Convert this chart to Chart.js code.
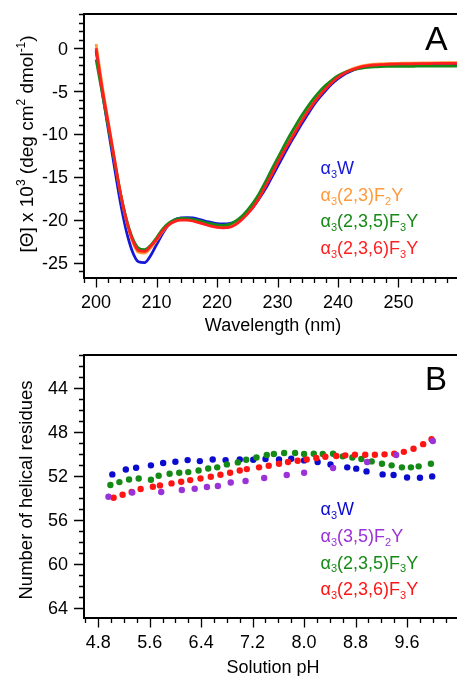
<!DOCTYPE html>
<html>
<head>
<meta charset="utf-8">
<script src="https://cdn.jsdelivr.net/npm/chart.js@4.4.0/dist/chart.umd.min.js"></script>
<style>
html, body { margin: 0; padding: 0; background: #fff; overflow: hidden; width: 457px; height: 676px; }
#wrapA { position: absolute; left: 0; top: 0; }
#wrapB { position: absolute; left: 0; top: 340px; }
canvas { display: block; }
</style>
</head>
<body>
<div id="wrapA"><canvas id="cdChart" width="470" height="340"></canvas></div>
<div id="wrapB"><canvas id="phChart" width="470" height="336"></canvas></div>
<script>
// ---- panel A: CD spectra ----
let wavelengthNm = [200, 201, 202, 203, 204, 205, 206, 207, 208, 209,
    210, 211, 212, 213, 214, 215, 216, 217, 218, 219,
    220, 221, 222, 223, 224, 225, 226, 227, 228, 229,
    230, 231, 232, 233, 234, 235, 236, 237, 238, 239,
    240, 241, 242, 243, 244, 245, 246, 247, 248, 249,
    250, 251, 252, 253, 254, 255, 256, 257, 258, 259, 260];

let thetaW = [-0.3, -5.0, -9.4, -13.7, -17.9, -21.3, -23.7, -24.9, -25.0, -24.2,
    -22.9, -21.6, -20.6, -20.0, -19.8, -19.75, -19.8, -19.95, -20.15, -20.3,
    -20.45, -20.5, -20.45, -20.25, -19.85, -19.25, -18.5, -17.5, -16.4, -15.1,
    -13.8, -12.5, -11.2, -10.0, -8.8, -7.7, -6.6, -5.7, -4.9, -4.15,
    -3.55, -3.05, -2.7, -2.4, -2.2, -2.05, -1.97, -1.92, -1.89, -1.87,
    -1.85, -1.84, -1.83, -1.82, -1.81, -1.8, -1.8, -1.79, -1.79, -1.78, -1.78];

let thetaF2Y = [0.5, -4.3, -8.5, -12.7, -16.8, -20.1, -22.5, -23.8, -23.9, -23.3,
    -22.4, -21.4, -20.6, -20.2, -20.0, -20.0, -20.1, -20.3, -20.5, -20.7,
    -20.8, -20.85, -20.8, -20.5, -19.95, -19.25, -18.4, -17.3, -16.0, -14.7,
    -13.3, -12.0, -10.7, -9.5, -8.3, -7.2, -6.2, -5.3, -4.5, -3.85,
    -3.3, -2.85, -2.5, -2.25, -2.05, -1.93, -1.86, -1.82, -1.79, -1.77,
    -1.75, -1.74, -1.73, -1.72, -1.71, -1.7, -1.7, -1.69, -1.69, -1.68, -1.68];

let thetaF3Y235 = [-1.3, -5.2, -9.1, -13.0, -16.8, -19.9, -22.1, -23.3, -23.5, -23.0,
    -22.1, -21.1, -20.4, -20.0, -19.85, -19.85, -19.95, -20.1, -20.3, -20.45,
    -20.6, -20.65, -20.55, -20.2, -19.65, -18.9, -18.0, -16.9, -15.6, -14.2,
    -12.85, -11.5, -10.2, -9.0, -7.85, -6.8, -5.85, -5.0, -4.3, -3.7,
    -3.2, -2.85, -2.6, -2.42, -2.3, -2.22, -2.17, -2.14, -2.12, -2.11,
    -2.1, -2.1, -2.1, -2.09, -2.09, -2.09, -2.08, -2.08, -2.08, -2.07, -2.07];

let thetaF3Y236 = [0.0, -4.7, -8.7, -12.8, -16.8, -20.0, -22.3, -23.6, -23.7, -23.1,
    -22.3, -21.3, -20.6, -20.2, -20.05, -20.05, -20.15, -20.35, -20.55, -20.75,
    -20.9, -20.95, -20.9, -20.6, -20.05, -19.35, -18.5, -17.4, -16.1, -14.8,
    -13.4, -12.1, -10.9, -9.7, -8.5, -7.4, -6.4, -5.5, -4.7, -4.0,
    -3.4, -2.95, -2.6, -2.35, -2.15, -2.02, -1.95, -1.9, -1.87, -1.85,
    -1.83, -1.82, -1.81, -1.8, -1.79, -1.78, -1.77, -1.76, -1.76, -1.75, -1.75];

let cdLabels = ['α_{3}W', 'α_{3}(2,3)F_{2}Y', 'α_{3}(2,3,5)F_{3}Y', 'α_{3}(2,3,6)F_{3}Y'];
let cdColors = ['#1717d9', '#ff9a3c', '#168a16', '#ff1f1f'];
let cdWaveTicks = [200, 210, 220, 230, 240, 250];
let cdThetaTicks = [0, -5, -10, -15, -20, -25];

// ---- panel B: helical residues vs pH ----
let phW = [5.02, 5.23, 5.39, 5.62, 5.81, 6.00, 6.19, 6.38, 6.58, 6.78, 7.00, 7.21, 7.40,
    7.61, 7.80, 8.00, 8.21, 8.41, 8.67, 8.81, 8.97, 9.22, 9.39, 9.60, 9.80, 9.99];
let resW = [51.85, 51.40, 51.25, 51.03, 50.82, 50.70, 50.55, 50.64, 50.49, 50.55, 50.49, 50.52, 50.45,
    50.49, 50.43, 50.58, 50.73, 50.94, 51.21, 51.33, 51.58, 51.85, 51.91, 52.13, 52.15, 52.03];

let phF2Y = [4.96, 5.33, 5.78, 6.10, 6.30, 6.49, 6.66, 6.86, 7.09, 7.38, 7.73, 8.00, 8.45, 8.98, 9.43, 10.00];
let resF2Y = [53.88, 53.49, 53.45, 53.27, 53.15, 53.00, 52.91, 52.58, 52.45, 52.18, 51.91, 51.70, 51.27, 50.73, 50.09, 48.82];

let phF3Y235 = [4.99, 5.13, 5.28, 5.43, 5.62, 5.74, 5.91, 6.06, 6.20, 6.36, 6.51, 6.65, 6.80, 6.97, 7.10, 7.26, 7.42,
    7.53, 7.69, 7.86, 8.00, 8.15, 8.29, 8.45, 8.60, 8.75, 8.89, 9.05, 9.21, 9.36, 9.52, 9.66, 9.78, 9.97];
let resF3Y235 = [52.82, 52.55, 52.31, 52.22, 52.34, 51.97, 51.79, 51.70, 51.64, 51.49, 51.31, 51.21, 50.94, 50.76, 50.52, 50.31, 50.09,
    50.00, 49.91, 49.91, 50.00, 49.97, 50.00, 49.97, 50.21, 50.31, 50.45, 50.67, 50.88, 51.03, 51.21, 51.21, 51.12, 50.88];

let phF3Y236 = [5.04, 5.18, 5.32, 5.46, 5.65, 5.76, 5.94, 6.09, 6.23, 6.39, 6.55, 6.70, 6.85, 7.00, 7.11, 7.30, 7.45,
    7.61, 7.75, 7.90, 8.04, 8.19, 8.33, 8.50, 8.64, 8.79, 8.95, 9.10, 9.25, 9.40, 9.55, 9.70, 9.85, 9.98];
let resF3Y236 = [53.97, 53.70, 53.45, 53.18, 52.97, 52.85, 52.67, 52.52, 52.37, 52.22, 52.06, 51.88, 51.70, 51.49, 51.37, 51.21, 51.06,
    50.88, 50.73, 50.61, 50.49, 50.36, 50.24, 50.18, 50.12, 50.06, 50.06, 50.06, 50.03, 49.97, 49.80, 49.52, 49.10, 48.65];

let phLabels = ['α_{3}W', 'α_{3}(3,5)F_{2}Y', 'α_{3}(2,3,5)F_{3}Y', 'α_{3}(2,3,6)F_{3}Y'];
let phColors = ['#0b0bd0', '#9b32d8', '#168a16', '#ff1414'];
let phTicks = [4.8, 5.6, 6.4, 7.2, 8.0, 8.8, 9.6];
let residueTicks = [44, 48, 52, 56, 60, 64];

const FONT = '"Liberation Sans", Arial, Helvetica, sans-serif';

// text with _{sub} and ^{sup} parts
function parseRich(str) {
    var parts = [];
    var re = /([_^])\{([^}]*)\}|([^_^]+)/g;
    var m;
    while ((m = re.exec(str))) {
        if (m[3]) parts.push({ t: m[3], mode: '' });
        else parts.push({ t: m[2], mode: m[1] === '_' ? 'sub' : 'sup' });
    }
    return parts;
}

function drawRich(ctx, str, x, y, size, color, align) {
    var parts = parseRich(str);
    var fontOf = function (p) { return (p.mode ? Math.round(size * 0.62) : size) + 'px ' + FONT; };
    var total = 0;
    parts.forEach(function (p) { ctx.font = fontOf(p); p.w = ctx.measureText(p.t).width; total += p.w; });
    var cx = align === 'center' ? x - total / 2 : (align === 'right' ? x - total : x);
    ctx.fillStyle = color;
    ctx.textAlign = 'left';
    ctx.textBaseline = 'alphabetic';
    parts.forEach(function (p) {
        ctx.font = fontOf(p);
        var dy = p.mode === 'sub' ? size * 0.22 : (p.mode === 'sup' ? -size * 0.42 : 0);
        ctx.fillText(p.t, cx, y + dy);
        cx += p.w;
    });
}

function stepValues(min, max, step) {
    var out = [];
    for (var n = Math.ceil(min / step - 1e-6); n * step <= max + 1e-6; n++) out.push(n * step);
    return out;
}

// frame, inward-less ticks (major + minor), tick labels, titles, legend
const panelDecor = {
    id: 'panelDecor',
    afterDraw: function (chart, args, o) {
        var ctx = chart.ctx;
        var a = chart.chartArea;
        var xs = chart.scales.x, ys = chart.scales.y;
        ctx.save();
        ctx.strokeStyle = '#000';
        ctx.lineWidth = 1.3;
        ctx.beginPath();
        stepValues(Math.min(xs.min, xs.max), Math.max(xs.min, xs.max), o.xMinor).forEach(function (v) {
            var px = Math.round(xs.getPixelForValue(v)) + 0.5;
            ctx.moveTo(px, a.bottom); ctx.lineTo(px, a.bottom + 5);
        });
        o.xTicks.forEach(function (v) {
            var px = Math.round(xs.getPixelForValue(v)) + 0.5;
            ctx.moveTo(px, a.bottom); ctx.lineTo(px, a.bottom + 9.5);
        });
        stepValues(Math.min(ys.min, ys.max), Math.max(ys.min, ys.max), o.yMinor).forEach(function (v) {
            var py = Math.round(ys.getPixelForValue(v)) + 0.5;
            ctx.moveTo(a.left, py); ctx.lineTo(a.left - 5, py);
        });
        o.yTicks.forEach(function (v) {
            var py = Math.round(ys.getPixelForValue(v)) + 0.5;
            ctx.moveTo(a.left, py); ctx.lineTo(a.left - 10, py);
        });
        ctx.stroke();

        ctx.lineWidth = 2;
        ctx.strokeRect(a.left, a.top, a.right - a.left, a.bottom - a.top);

        // tick labels
        ctx.fillStyle = '#000';
        ctx.font = '18px ' + FONT;
        ctx.textBaseline = 'alphabetic';
        ctx.textAlign = 'center';
        o.xTicks.forEach(function (v) {
            ctx.fillText(o.xFormat(v), xs.getPixelForValue(v), a.bottom + 29.5);
        });
        ctx.textAlign = 'right';
        o.yTicks.forEach(function (v) {
            ctx.fillText(String(v), a.left - 16, ys.getPixelForValue(v) + 6.4);
        });

        // axis titles
        drawRich(ctx, o.xTitle, o.xTitleX, a.bottom + o.xTitleDy, 18, '#000', 'center');
        ctx.save();
        ctx.translate(o.yTitleX, o.yTitleY);
        ctx.rotate(-Math.PI / 2);
        drawRich(ctx, o.yTitle, 0, 0, o.yTitleSize, '#000', 'center');
        ctx.restore();

        // panel letter
        ctx.fillStyle = '#000';
        ctx.font = o.letterSize + 'px ' + FONT;
        ctx.textAlign = 'left';
        ctx.fillText(o.letter, 425, o.letterY);

        // legend
        o.legend.forEach(function (txt, k) {
            drawRich(ctx, txt, 320.5, o.legendY + k * 26.6, 18, o.legendColors[k], 'left');
        });
        ctx.restore();
    }
};

function fixedAxes(xHeight, yWidth) {
    return {
        x: function (s) { s.height = xHeight; },
        y: function (s) { s.width = yWidth; }
    };
}

// ---- chart A ----
let fitA = fixedAxes(62, 84);
let cdSeries = [thetaW, thetaF2Y, thetaF3Y235, thetaF3Y236];
let cdOrder = [3, 2, 1, 0];

let cdChart = new Chart(document.getElementById('cdChart'), {
    type: 'line',
    data: {
        datasets: cdSeries.map(function (vals, k) {
            return {
                label: cdLabels[k],
                data: vals.map(function (v, i) { return { x: wavelengthNm[i], y: v }; }),
                borderColor: cdColors[k],
                borderWidth: 2.8,
                pointRadius: 0,
                fill: false,
                cubicInterpolationMode: 'monotone',
                order: cdOrder[k]
            };
        })
    },
    options: {
        responsive: false,
        animation: false,
        layout: { padding: { left: 0, top: 14, right: 5, bottom: 0 } },
        plugins: {
            legend: { display: false },
            tooltip: { enabled: false },
            panelDecor: {
                xTicks: cdWaveTicks, xMinor: 2, yTicks: cdThetaTicks, yMinor: 1,
                xFormat: function (v) { return String(v); },
                xTitle: 'Wavelength (nm)', xTitleX: 273, xTitleDy: 53,
                yTitle: '[Θ] x 10^{3} (deg cm^{2} dmol^{-1})', yTitleX: 33, yTitleY: 144, yTitleSize: 19,
                letter: 'A', letterSize: 34, letterY: 49.5,
                legend: cdLabels, legendColors: cdColors, legendY: 174
            }
        },
        scales: {
            x: {
                type: 'linear', min: 198, max: 261,
                grid: { display: false, drawTicks: false }, border: { display: false },
                ticks: { display: false }, afterFit: fitA.x
            },
            y: {
                type: 'linear', min: -26.8, max: 4,
                grid: { display: false, drawTicks: false }, border: { display: false },
                ticks: { display: false }, afterFit: fitA.y
            }
        }
    },
    plugins: [panelDecor]
});

// ---- chart B ----
let fitB = fixedAxes(58, 84);
let phX = [phW, phF2Y, phF3Y235, phF3Y236];
let phY = [resW, resF2Y, resF3Y235, resF3Y236];
let phOrder = [3, 0, 2, 1];

let phChart = new Chart(document.getElementById('phChart'), {
    type: 'scatter',
    data: {
        datasets: phX.map(function (xs, k) {
            return {
                label: phLabels[k],
                data: xs.map(function (x, i) { return { x: x, y: phY[k][i] }; }),
                backgroundColor: phColors[k],
                borderWidth: 0,
                pointRadius: 3.2,
                showLine: false,
                order: phOrder[k]
            };
        })
    },
    options: {
        responsive: false,
        animation: false,
        layout: { padding: { left: 0, top: 15, right: 5, bottom: 0 } },
        plugins: {
            legend: { display: false },
            tooltip: { enabled: false },
            panelDecor: {
                xTicks: phTicks, xMinor: 0.2, yTicks: residueTicks, yMinor: 1,
                xFormat: function (v) { return v.toFixed(1); },
                xTitle: 'Solution pH', xTitleX: 273, xTitleDy: 54.5,
                yTitle: 'Number of helical residues', yTitleX: 32, yTitleY: 150, yTitleSize: 18.5,
                letter: 'B', letterSize: 33, letterY: 50,
                legend: phLabels, legendColors: phColors, legendY: 175.3
            }
        },
        scales: {
            x: {
                type: 'linear', min: 4.58, max: 10.5,
                grid: { display: false, drawTicks: false }, border: { display: false },
                ticks: { display: false }, afterFit: fitB.x
            },
            y: {
                type: 'linear', min: 41, max: 64.9, reverse: true,
                grid: { display: false, drawTicks: false }, border: { display: false },
                ticks: { display: false }, afterFit: fitB.y
            }
        }
    },
    plugins: [panelDecor]
});
</script>
</body>
</html>
